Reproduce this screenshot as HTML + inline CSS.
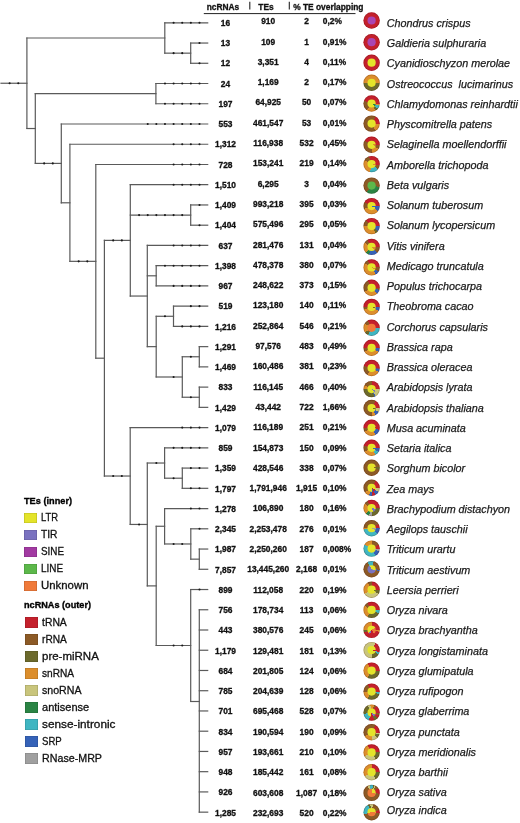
<!DOCTYPE html>
<html><head><meta charset="utf-8"><style>
html,body{margin:0;padding:0;background:#fff;}
body{width:520px;height:823px;position:relative;overflow:hidden;will-change:transform;filter:blur(0.3px);font-family:"Liberation Sans",sans-serif;color:#111;}
.a{position:absolute;white-space:nowrap;line-height:1;}
.n{font-weight:700;font-size:8.4px;-webkit-text-stroke:0.3px #111;}
.c{transform:translateX(-50%);}
.h{font-weight:700;font-size:8.4px;-webkit-text-stroke:0.3px #111;}
.sp{font-style:italic;font-size:10.78px;color:#1a1a1a;-webkit-text-stroke:0.25px #1a1a1a;}
.pie{position:absolute;left:0;top:0;width:16px;height:16px;border-radius:50%;box-shadow:inset 0 0 0 0.7px rgba(60,0,0,0.25);transform-origin:0 0;}
.pin{position:absolute;left:4px;top:4px;width:8px;height:8px;border-radius:50%;}
.sq{position:absolute;width:13.2px;height:10.8px;box-shadow:inset 0 0 0 0.6px rgba(0,0,0,0.18);}
.lg{font-size:10.8px;color:#111;transform-origin:0 0;-webkit-text-stroke:0.3px #111;}
.lt{font-weight:700;font-size:9.6px;color:#000;transform-origin:0 0;-webkit-text-stroke:0.35px #000;}
</style></head><body>

<svg width="520" height="823" style="position:absolute;left:0;top:0">
<g stroke="#5a5a5a" stroke-width="1.2" stroke-linecap="square" fill="none">
<line x1="1.00" y1="83.25" x2="26.90" y2="83.25"/>
<line x1="26.90" y1="37.98" x2="26.90" y2="128.52"/>
<line x1="26.90" y1="37.98" x2="164.80" y2="37.98"/>
<line x1="164.80" y1="22.80" x2="164.80" y2="53.16"/>
<line x1="164.80" y1="22.80" x2="207.70" y2="22.80"/>
<line x1="164.80" y1="53.16" x2="190.70" y2="53.16"/>
<line x1="190.70" y1="43.04" x2="190.70" y2="63.28"/>
<line x1="190.70" y1="43.04" x2="207.70" y2="43.04"/>
<line x1="190.70" y1="63.28" x2="207.70" y2="63.28"/>
<line x1="26.90" y1="128.52" x2="35.30" y2="128.52"/>
<line x1="35.30" y1="93.64" x2="35.30" y2="163.40"/>
<line x1="35.30" y1="93.64" x2="155.90" y2="93.64"/>
<line x1="155.90" y1="83.52" x2="155.90" y2="103.76"/>
<line x1="155.90" y1="83.52" x2="207.70" y2="83.52"/>
<line x1="155.90" y1="103.76" x2="207.70" y2="103.76"/>
<line x1="35.30" y1="163.40" x2="61.30" y2="163.40"/>
<line x1="61.30" y1="124.00" x2="61.30" y2="202.79"/>
<line x1="61.30" y1="124.00" x2="207.70" y2="124.00"/>
<line x1="61.30" y1="202.79" x2="69.90" y2="202.79"/>
<line x1="69.90" y1="144.24" x2="69.90" y2="261.34"/>
<line x1="69.90" y1="144.24" x2="207.70" y2="144.24"/>
<line x1="69.90" y1="261.34" x2="95.80" y2="261.34"/>
<line x1="95.80" y1="164.48" x2="95.80" y2="358.20"/>
<line x1="95.80" y1="164.48" x2="207.70" y2="164.48"/>
<line x1="95.80" y1="358.20" x2="104.40" y2="358.20"/>
<line x1="104.40" y1="240.38" x2="104.40" y2="476.03"/>
<line x1="104.40" y1="240.38" x2="130.30" y2="240.38"/>
<line x1="130.30" y1="184.72" x2="130.30" y2="296.04"/>
<line x1="130.30" y1="184.72" x2="207.70" y2="184.72"/>
<line x1="130.30" y1="215.08" x2="190.70" y2="215.08"/>
<line x1="190.70" y1="204.96" x2="190.70" y2="225.20"/>
<line x1="190.70" y1="204.96" x2="207.70" y2="204.96"/>
<line x1="190.70" y1="225.20" x2="207.70" y2="225.20"/>
<line x1="130.30" y1="296.04" x2="147.30" y2="296.04"/>
<line x1="147.30" y1="245.44" x2="147.30" y2="346.64"/>
<line x1="147.30" y1="245.44" x2="207.70" y2="245.44"/>
<line x1="147.30" y1="275.80" x2="156.20" y2="275.80"/>
<line x1="156.20" y1="265.68" x2="156.20" y2="285.92"/>
<line x1="156.20" y1="265.68" x2="207.70" y2="265.68"/>
<line x1="156.20" y1="285.92" x2="207.70" y2="285.92"/>
<line x1="147.30" y1="346.64" x2="156.20" y2="346.64"/>
<line x1="156.20" y1="316.28" x2="156.20" y2="377.00"/>
<line x1="156.20" y1="316.28" x2="173.50" y2="316.28"/>
<line x1="173.50" y1="306.16" x2="173.50" y2="326.40"/>
<line x1="173.50" y1="306.16" x2="207.70" y2="306.16"/>
<line x1="173.50" y1="326.40" x2="207.70" y2="326.40"/>
<line x1="156.20" y1="377.00" x2="182.30" y2="377.00"/>
<line x1="182.30" y1="356.76" x2="182.30" y2="397.24"/>
<line x1="182.30" y1="356.76" x2="199.30" y2="356.76"/>
<line x1="199.30" y1="346.64" x2="199.30" y2="366.88"/>
<line x1="199.30" y1="346.64" x2="207.70" y2="346.64"/>
<line x1="199.30" y1="366.88" x2="207.70" y2="366.88"/>
<line x1="182.30" y1="397.24" x2="199.30" y2="397.24"/>
<line x1="199.30" y1="387.12" x2="199.30" y2="407.36"/>
<line x1="199.30" y1="387.12" x2="207.70" y2="387.12"/>
<line x1="199.30" y1="407.36" x2="207.70" y2="407.36"/>
<line x1="104.40" y1="476.03" x2="130.20" y2="476.03"/>
<line x1="130.20" y1="427.60" x2="130.20" y2="524.45"/>
<line x1="130.20" y1="427.60" x2="207.70" y2="427.60"/>
<line x1="130.20" y1="524.45" x2="147.30" y2="524.45"/>
<line x1="147.30" y1="463.02" x2="147.30" y2="585.89"/>
<line x1="147.30" y1="463.02" x2="164.60" y2="463.02"/>
<line x1="164.60" y1="447.84" x2="164.60" y2="478.20"/>
<line x1="164.60" y1="447.84" x2="207.70" y2="447.84"/>
<line x1="164.60" y1="478.20" x2="182.30" y2="478.20"/>
<line x1="182.30" y1="468.08" x2="182.30" y2="488.32"/>
<line x1="182.30" y1="468.08" x2="207.70" y2="468.08"/>
<line x1="182.30" y1="488.32" x2="207.70" y2="488.32"/>
<line x1="147.30" y1="585.89" x2="156.20" y2="585.89"/>
<line x1="156.20" y1="526.27" x2="156.20" y2="645.51"/>
<line x1="156.20" y1="526.27" x2="164.60" y2="526.27"/>
<line x1="164.60" y1="508.56" x2="164.60" y2="543.98"/>
<line x1="164.60" y1="508.56" x2="207.70" y2="508.56"/>
<line x1="164.60" y1="543.98" x2="190.80" y2="543.98"/>
<line x1="190.80" y1="528.80" x2="190.80" y2="559.16"/>
<line x1="190.80" y1="528.80" x2="207.70" y2="528.80"/>
<line x1="190.80" y1="559.16" x2="199.30" y2="559.16"/>
<line x1="199.30" y1="549.04" x2="199.30" y2="569.28"/>
<line x1="199.30" y1="549.04" x2="207.70" y2="549.04"/>
<line x1="199.30" y1="569.28" x2="207.70" y2="569.28"/>
<line x1="156.20" y1="645.51" x2="190.70" y2="645.51"/>
<line x1="190.70" y1="589.52" x2="190.70" y2="701.50"/>
<line x1="190.70" y1="589.52" x2="207.70" y2="589.52"/>
<line x1="190.70" y1="701.50" x2="199.30" y2="701.50"/>
<line x1="199.30" y1="609.76" x2="199.30" y2="812.16"/>
<line x1="199.30" y1="609.76" x2="207.70" y2="609.76"/>
<line x1="199.30" y1="630.00" x2="207.70" y2="630.00"/>
<line x1="199.30" y1="650.24" x2="207.70" y2="650.24"/>
<line x1="199.30" y1="670.48" x2="207.70" y2="670.48"/>
<line x1="199.30" y1="690.72" x2="207.70" y2="690.72"/>
<line x1="199.30" y1="710.96" x2="207.70" y2="710.96"/>
<line x1="199.30" y1="731.20" x2="207.70" y2="731.20"/>
<line x1="199.30" y1="751.44" x2="207.70" y2="751.44"/>
<line x1="199.30" y1="771.68" x2="207.70" y2="771.68"/>
<line x1="199.30" y1="791.92" x2="207.70" y2="791.92"/>
<line x1="199.30" y1="812.16" x2="207.70" y2="812.16"/>
</g><g fill="#1a1a1a">
<circle cx="18.27" cy="83.25" r="1.05"/>
<circle cx="9.64" cy="83.25" r="1.05"/>
<circle cx="199.50" cy="22.80" r="1.05"/>
<circle cx="190.87" cy="22.80" r="1.05"/>
<circle cx="182.24" cy="22.80" r="1.05"/>
<circle cx="173.61" cy="22.80" r="1.05"/>
<circle cx="182.24" cy="53.16" r="1.05"/>
<circle cx="173.61" cy="53.16" r="1.05"/>
<circle cx="199.50" cy="43.04" r="1.05"/>
<circle cx="199.50" cy="63.28" r="1.05"/>
<circle cx="199.50" cy="83.52" r="1.05"/>
<circle cx="190.87" cy="83.52" r="1.05"/>
<circle cx="182.24" cy="83.52" r="1.05"/>
<circle cx="173.61" cy="83.52" r="1.05"/>
<circle cx="164.98" cy="83.52" r="1.05"/>
<circle cx="199.50" cy="103.76" r="1.05"/>
<circle cx="190.87" cy="103.76" r="1.05"/>
<circle cx="182.24" cy="103.76" r="1.05"/>
<circle cx="173.61" cy="103.76" r="1.05"/>
<circle cx="164.98" cy="103.76" r="1.05"/>
<circle cx="52.79" cy="163.40" r="1.05"/>
<circle cx="44.16" cy="163.40" r="1.05"/>
<circle cx="199.50" cy="124.00" r="1.05"/>
<circle cx="190.87" cy="124.00" r="1.05"/>
<circle cx="182.24" cy="124.00" r="1.05"/>
<circle cx="173.61" cy="124.00" r="1.05"/>
<circle cx="164.98" cy="124.00" r="1.05"/>
<circle cx="156.35" cy="124.00" r="1.05"/>
<circle cx="147.72" cy="124.00" r="1.05"/>
<circle cx="199.50" cy="144.24" r="1.05"/>
<circle cx="190.87" cy="144.24" r="1.05"/>
<circle cx="182.24" cy="144.24" r="1.05"/>
<circle cx="173.61" cy="144.24" r="1.05"/>
<circle cx="87.31" cy="261.34" r="1.05"/>
<circle cx="78.68" cy="261.34" r="1.05"/>
<circle cx="199.50" cy="164.48" r="1.05"/>
<circle cx="190.87" cy="164.48" r="1.05"/>
<circle cx="182.24" cy="164.48" r="1.05"/>
<circle cx="173.61" cy="164.48" r="1.05"/>
<circle cx="121.83" cy="240.38" r="1.05"/>
<circle cx="113.20" cy="240.38" r="1.05"/>
<circle cx="199.50" cy="184.72" r="1.05"/>
<circle cx="190.87" cy="184.72" r="1.05"/>
<circle cx="182.24" cy="184.72" r="1.05"/>
<circle cx="173.61" cy="184.72" r="1.05"/>
<circle cx="182.24" cy="215.08" r="1.05"/>
<circle cx="173.61" cy="215.08" r="1.05"/>
<circle cx="164.98" cy="215.08" r="1.05"/>
<circle cx="156.35" cy="215.08" r="1.05"/>
<circle cx="147.72" cy="215.08" r="1.05"/>
<circle cx="139.09" cy="215.08" r="1.05"/>
<circle cx="199.50" cy="204.96" r="1.05"/>
<circle cx="199.50" cy="225.20" r="1.05"/>
<circle cx="199.50" cy="245.44" r="1.05"/>
<circle cx="190.87" cy="245.44" r="1.05"/>
<circle cx="182.24" cy="245.44" r="1.05"/>
<circle cx="173.61" cy="245.44" r="1.05"/>
<circle cx="199.50" cy="265.68" r="1.05"/>
<circle cx="190.87" cy="265.68" r="1.05"/>
<circle cx="182.24" cy="265.68" r="1.05"/>
<circle cx="173.61" cy="265.68" r="1.05"/>
<circle cx="164.98" cy="265.68" r="1.05"/>
<circle cx="199.50" cy="285.92" r="1.05"/>
<circle cx="190.87" cy="285.92" r="1.05"/>
<circle cx="182.24" cy="285.92" r="1.05"/>
<circle cx="173.61" cy="285.92" r="1.05"/>
<circle cx="164.98" cy="316.28" r="1.05"/>
<circle cx="199.50" cy="306.16" r="1.05"/>
<circle cx="190.87" cy="306.16" r="1.05"/>
<circle cx="199.50" cy="326.40" r="1.05"/>
<circle cx="190.87" cy="326.40" r="1.05"/>
<circle cx="182.24" cy="326.40" r="1.05"/>
<circle cx="173.61" cy="377.00" r="1.05"/>
<circle cx="190.87" cy="356.76" r="1.05"/>
<circle cx="190.87" cy="397.24" r="1.05"/>
<circle cx="121.83" cy="476.03" r="1.05"/>
<circle cx="113.20" cy="476.03" r="1.05"/>
<circle cx="199.50" cy="427.60" r="1.05"/>
<circle cx="190.87" cy="427.60" r="1.05"/>
<circle cx="182.24" cy="427.60" r="1.05"/>
<circle cx="139.09" cy="524.45" r="1.05"/>
<circle cx="156.35" cy="463.02" r="1.05"/>
<circle cx="199.50" cy="447.84" r="1.05"/>
<circle cx="190.87" cy="447.84" r="1.05"/>
<circle cx="182.24" cy="447.84" r="1.05"/>
<circle cx="173.61" cy="447.84" r="1.05"/>
<circle cx="173.61" cy="478.20" r="1.05"/>
<circle cx="199.50" cy="468.08" r="1.05"/>
<circle cx="190.87" cy="468.08" r="1.05"/>
<circle cx="199.50" cy="488.32" r="1.05"/>
<circle cx="190.87" cy="488.32" r="1.05"/>
<circle cx="199.50" cy="508.56" r="1.05"/>
<circle cx="190.87" cy="508.56" r="1.05"/>
<circle cx="182.24" cy="543.98" r="1.05"/>
<circle cx="173.61" cy="543.98" r="1.05"/>
<circle cx="199.50" cy="528.80" r="1.05"/>
<circle cx="182.24" cy="645.51" r="1.05"/>
<circle cx="173.61" cy="645.51" r="1.05"/>
<circle cx="199.50" cy="589.52" r="1.05"/>
</g>
<line x1="203.8" y1="13.6" x2="355.5" y2="13.6" stroke="#222" stroke-width="1"/>
<line x1="249.8" y1="1.8" x2="249.8" y2="9.4" stroke="#222" stroke-width="1.1"/>
<line x1="289.3" y1="1.8" x2="289.3" y2="9.4" stroke="#222" stroke-width="1.1"/>
</svg>
<div class="a h" style="left:206.7px;top:3.0px">ncRNAs</div>
<div class="a h" style="left:258.3px;top:3.0px">TEs</div>
<div class="a h" style="left:293.2px;top:3.0px">% TE overlapping</div>
<div class="a n c" style="left:225.5px;top:18.90px">16</div>
<div class="a n c" style="left:268.2px;top:17.20px">910</div>
<div class="a n c" style="left:306.6px;top:17.20px">2</div>
<div class="a n" style="left:322.8px;top:17.20px">0,2%</div>
<div class="pie" style="transform:translate(363.40px,12.30px) scale(1.025);background:conic-gradient(#c4202c 0deg 360deg)"><div class="pin" style="background:conic-gradient(#aa46b2 0deg 360deg)"></div></div>
<div class="a sp" style="left:386.8px;top:17.82px">Chondrus crispus</div>
<div class="a n c" style="left:225.5px;top:39.15px">13</div>
<div class="a n c" style="left:268.2px;top:37.50px">109</div>
<div class="a n c" style="left:306.6px;top:37.50px">1</div>
<div class="a n" style="left:322.8px;top:37.50px">0,91%</div>
<div class="pie" style="transform:translate(363.40px,34.00px) scale(1.025);background:conic-gradient(#c4202c 0deg 360deg)"><div class="pin" style="background:conic-gradient(#aa46b2 0deg 360deg)"></div></div>
<div class="a sp" style="left:386.8px;top:38.07px">Galdieria sulphuraria</div>
<div class="a n c" style="left:225.5px;top:59.40px">12</div>
<div class="a n c" style="left:268.2px;top:57.80px">3,351</div>
<div class="a n c" style="left:306.6px;top:57.80px">4</div>
<div class="a n" style="left:322.8px;top:57.80px">0,11%</div>
<div class="pie" style="transform:translate(363.40px,54.50px) scale(1.025);background:conic-gradient(#c4202c 0deg 360deg)"><div class="pin" style="background:conic-gradient(#e4e42a 0deg 360deg)"></div></div>
<div class="a sp" style="left:386.8px;top:58.32px">Cyanidioschyzon merolae</div>
<div class="a n c" style="left:225.5px;top:79.65px">24</div>
<div class="a n c" style="left:268.2px;top:78.10px">1,169</div>
<div class="a n c" style="left:306.6px;top:78.10px">2</div>
<div class="a n" style="left:322.8px;top:78.10px">0,17%</div>
<div class="pie" style="transform:translate(363.40px,74.60px) scale(1.025);background:conic-gradient(#dc8e2c 0deg 90deg,#6c6a2c 90deg 270deg,#dc8e2c 270deg 360deg)"><div class="pin" style="background:conic-gradient(#e4e42a 0deg 360deg)"></div></div>
<div class="a sp" style="left:386.8px;top:78.57px">Ostreococcus&nbsp; lucimarinus</div>
<div class="a n c" style="left:225.5px;top:99.90px">197</div>
<div class="a n c" style="left:268.2px;top:98.40px">64,925</div>
<div class="a n c" style="left:306.6px;top:98.40px">50</div>
<div class="a n" style="left:322.8px;top:98.40px">0,07%</div>
<div class="pie" style="transform:translate(363.40px,95.30px) scale(1.025);background:conic-gradient(#c4202c 0deg 90deg,#dc8e2c 90deg 105deg,#3fb6c2 105deg 130deg,#6c6a2c 130deg 150deg,#dc8e2c 150deg 215deg,#8c5a26 215deg 290deg,#c4202c 290deg 360deg)"><div class="pin" style="background:conic-gradient(#e4e42a 0deg 100deg,#2a8444 100deg 125deg,#e4e42a 125deg 360deg)"></div></div>
<div class="a sp" style="left:386.8px;top:98.82px">Chlamydomonas reinhardtii</div>
<div class="a n c" style="left:225.5px;top:120.15px">553</div>
<div class="a n c" style="left:268.2px;top:118.70px">461,547</div>
<div class="a n c" style="left:306.6px;top:118.70px">53</div>
<div class="a n" style="left:322.8px;top:118.70px">0,01%</div>
<div class="pie" style="transform:translate(363.40px,115.40px) scale(1.025);background:conic-gradient(#8c5a26 0deg 30deg,#c4202c 30deg 95deg,#dc8e2c 95deg 150deg,#8c5a26 150deg 360deg)"><div class="pin" style="background:conic-gradient(#e4e42a 0deg 360deg)"></div></div>
<div class="a sp" style="left:386.8px;top:119.07px">Physcomitrella patens</div>
<div class="a n c" style="left:225.5px;top:140.40px">1,312</div>
<div class="a n c" style="left:268.2px;top:139.00px">116,938</div>
<div class="a n c" style="left:306.6px;top:139.00px">532</div>
<div class="a n" style="left:322.8px;top:139.00px">0,45%</div>
<div class="pie" style="transform:translate(363.40px,136.60px) scale(1.025);background:conic-gradient(#c4202c 0deg 90deg,#8c5a26 90deg 120deg,#dc8e2c 120deg 180deg,#8c5a26 180deg 300deg,#c4202c 300deg 360deg)"><div class="pin" style="background:conic-gradient(#e4e42a 0deg 80deg,#dc8e2c 80deg 105deg,#e4e42a 105deg 360deg)"></div></div>
<div class="a sp" style="left:386.8px;top:139.32px">Selaginella moellendorffii</div>
<div class="a n c" style="left:225.5px;top:160.65px">728</div>
<div class="a n c" style="left:268.2px;top:159.30px">153,241</div>
<div class="a n c" style="left:306.6px;top:159.30px">219</div>
<div class="a n" style="left:322.8px;top:159.30px">0,14%</div>
<div class="pie" style="transform:translate(363.40px,155.90px) scale(1.025);background:conic-gradient(#c4202c 0deg 100deg,#8c5a26 100deg 130deg,#3fb6c2 130deg 190deg,#dc8e2c 190deg 300deg,#8c5a26 300deg 340deg,#c4202c 340deg 360deg)"><div class="pin" style="background:conic-gradient(#e4e42a 0deg 80deg,#dc8e2c 80deg 108deg,#e4e42a 108deg 360deg)"></div></div>
<div class="a sp" style="left:386.8px;top:159.57px">Amborella trichopoda</div>
<div class="a n c" style="left:225.5px;top:180.90px">1,510</div>
<div class="a n c" style="left:268.2px;top:179.60px">6,295</div>
<div class="a n c" style="left:306.6px;top:179.60px">3</div>
<div class="a n" style="left:322.8px;top:179.60px">0,04%</div>
<div class="pie" style="transform:translate(363.40px,177.40px) scale(1.025);background:conic-gradient(#8c5a26 0deg 100deg,#2a8444 100deg 215deg,#8c5a26 215deg 360deg)"><div class="pin" style="background:conic-gradient(#5cb84a 0deg 360deg)"></div></div>
<div class="a sp" style="left:386.8px;top:179.82px">Beta vulgaris</div>
<div class="a n c" style="left:225.5px;top:201.15px">1,409</div>
<div class="a n c" style="left:268.2px;top:199.90px">993,218</div>
<div class="a n c" style="left:306.6px;top:199.90px">395</div>
<div class="a n" style="left:322.8px;top:199.90px">0,03%</div>
<div class="pie" style="transform:translate(363.40px,197.90px) scale(1.025);background:conic-gradient(#c4202c 0deg 90deg,#3562b8 90deg 130deg,#dc8e2c 130deg 250deg,#8c5a26 250deg 300deg,#c4202c 300deg 360deg)"><div class="pin" style="background:conic-gradient(#e4e42a 0deg 95deg,#3562b8 95deg 115deg,#e4e42a 115deg 360deg)"></div></div>
<div class="a sp" style="left:386.8px;top:200.07px">Solanum tuberosum</div>
<div class="a n c" style="left:225.5px;top:221.40px">1,404</div>
<div class="a n c" style="left:268.2px;top:220.20px">575,496</div>
<div class="a n c" style="left:306.6px;top:220.20px">295</div>
<div class="a n" style="left:322.8px;top:220.20px">0,05%</div>
<div class="pie" style="transform:translate(363.40px,217.90px) scale(1.025);background:conic-gradient(#c4202c 0deg 90deg,#3562b8 90deg 130deg,#6c6a2c 130deg 150deg,#dc8e2c 150deg 270deg,#8c5a26 270deg 315deg,#c4202c 315deg 360deg)"><div class="pin" style="background:conic-gradient(#e4e42a 0deg 360deg)"></div></div>
<div class="a sp" style="left:386.8px;top:220.31px">Solanum lycopersicum</div>
<div class="a n c" style="left:225.5px;top:241.65px">637</div>
<div class="a n c" style="left:268.2px;top:240.50px">281,476</div>
<div class="a n c" style="left:306.6px;top:240.50px">131</div>
<div class="a n" style="left:322.8px;top:240.50px">0,04%</div>
<div class="pie" style="transform:translate(363.40px,238.70px) scale(1.025);background:conic-gradient(#c4202c 0deg 90deg,#8c5a26 90deg 135deg,#3562b8 135deg 200deg,#2a8444 200deg 225deg,#dc8e2c 225deg 300deg,#8c5a26 300deg 330deg,#c4202c 330deg 360deg)"><div class="pin" style="background:conic-gradient(#e4e42a 0deg 95deg,#dc8e2c 95deg 140deg,#e4e42a 140deg 360deg)"></div></div>
<div class="a sp" style="left:386.8px;top:240.56px">Vitis vinifera</div>
<div class="a n c" style="left:225.5px;top:261.90px">1,398</div>
<div class="a n c" style="left:268.2px;top:260.80px">478,378</div>
<div class="a n c" style="left:306.6px;top:260.80px">380</div>
<div class="a n" style="left:322.8px;top:260.80px">0,07%</div>
<div class="pie" style="transform:translate(363.40px,259.20px) scale(1.025);background:conic-gradient(#c4202c 0deg 90deg,#8c5a26 90deg 120deg,#3562b8 120deg 150deg,#dc8e2c 150deg 300deg,#8c5a26 300deg 330deg,#c4202c 330deg 360deg)"><div class="pin" style="background:conic-gradient(#e4e42a 0deg 95deg,#dc8e2c 95deg 125deg,#e4e42a 125deg 360deg)"></div></div>
<div class="a sp" style="left:386.8px;top:260.81px">Medicago truncatula</div>
<div class="a n c" style="left:225.5px;top:282.15px">967</div>
<div class="a n c" style="left:268.2px;top:281.10px">248,622</div>
<div class="a n c" style="left:306.6px;top:281.10px">373</div>
<div class="a n" style="left:322.8px;top:281.10px">0,15%</div>
<div class="pie" style="transform:translate(363.40px,279.60px) scale(1.025);background:conic-gradient(#c4202c 0deg 90deg,#8c5a26 90deg 105deg,#3562b8 105deg 135deg,#dc8e2c 135deg 240deg,#8c5a26 240deg 330deg,#c4202c 330deg 360deg)"><div class="pin" style="background:conic-gradient(#e4e42a 0deg 360deg)"></div></div>
<div class="a sp" style="left:386.8px;top:281.06px">Populus trichocarpa</div>
<div class="a n c" style="left:225.5px;top:302.40px">519</div>
<div class="a n c" style="left:268.2px;top:301.40px">123,180</div>
<div class="a n c" style="left:306.6px;top:301.40px">140</div>
<div class="a n" style="left:322.8px;top:301.40px">0,11%</div>
<div class="pie" style="transform:translate(363.40px,298.70px) scale(1.025);background:conic-gradient(#c4202c 0deg 90deg,#3562b8 95deg 120deg,#dc8e2c 120deg 250deg,#8c5a26 250deg 270deg,#c4202c 270deg 360deg)"><div class="pin" style="background:conic-gradient(#e4e42a 0deg 100deg,#8c5a26 100deg 110deg,#e4e42a 110deg 360deg)"></div></div>
<div class="a sp" style="left:386.8px;top:301.31px">Theobroma cacao</div>
<div class="a n c" style="left:225.5px;top:322.65px">1,216</div>
<div class="a n c" style="left:268.2px;top:321.70px">252,864</div>
<div class="a n c" style="left:306.6px;top:321.70px">546</div>
<div class="a n" style="left:322.8px;top:321.70px">0,21%</div>
<div class="pie" style="transform:translate(363.40px,319.60px) scale(1.025);background:conic-gradient(#c4202c 0deg 90deg,#3fb6c2 90deg 205deg,#6c6a2c 205deg 235deg,#dc8e2c 235deg 300deg,#8c5a26 300deg 330deg,#c4202c 330deg 360deg)"><div class="pin" style="background:conic-gradient(#f07a3a 0deg 360deg)"></div></div>
<div class="a sp" style="left:386.8px;top:321.56px">Corchorus capsularis</div>
<div class="a n c" style="left:225.5px;top:342.90px">1,291</div>
<div class="a n c" style="left:268.2px;top:342.00px">97,576</div>
<div class="a n c" style="left:306.6px;top:342.00px">483</div>
<div class="a n" style="left:322.8px;top:342.00px">0,49%</div>
<div class="pie" style="transform:translate(363.40px,339.60px) scale(1.025);background:conic-gradient(#c4202c 0deg 90deg,#3562b8 90deg 120deg,#dc8e2c 120deg 240deg,#8c5a26 240deg 270deg,#c4202c 270deg 360deg)"><div class="pin" style="background:conic-gradient(#e4e42a 0deg 360deg)"></div></div>
<div class="a sp" style="left:386.8px;top:341.81px">Brassica rapa</div>
<div class="a n c" style="left:225.5px;top:363.15px">1,469</div>
<div class="a n c" style="left:268.2px;top:362.30px">160,486</div>
<div class="a n c" style="left:306.6px;top:362.30px">381</div>
<div class="a n" style="left:322.8px;top:362.30px">0,23%</div>
<div class="pie" style="transform:translate(363.40px,359.80px) scale(1.025);background:conic-gradient(#c4202c 0deg 90deg,#3562b8 100deg 120deg,#dc8e2c 120deg 210deg,#8c5a26 210deg 285deg,#c4202c 285deg 360deg)"><div class="pin" style="background:conic-gradient(#e4e42a 0deg 360deg)"></div></div>
<div class="a sp" style="left:386.8px;top:362.06px">Brassica oleracea</div>
<div class="a n c" style="left:225.5px;top:383.40px">833</div>
<div class="a n c" style="left:268.2px;top:382.60px">116,145</div>
<div class="a n c" style="left:306.6px;top:382.60px">466</div>
<div class="a n" style="left:322.8px;top:382.60px">0,40%</div>
<div class="pie" style="transform:translate(363.40px,380.90px) scale(1.025);background:conic-gradient(#c4202c 0deg 90deg,#c9c57c 90deg 150deg,#3562b8 150deg 160deg,#6c6a2c 160deg 270deg,#dc8e2c 270deg 300deg,#8c5a26 300deg 360deg)"><div class="pin" style="background:conic-gradient(#e4e42a 0deg 110deg,#7a72c0 110deg 140deg,#e4e42a 140deg 360deg)"></div></div>
<div class="a sp" style="left:386.8px;top:382.31px">Arabidopsis lyrata</div>
<div class="a n c" style="left:225.5px;top:403.65px">1,429</div>
<div class="a n c" style="left:268.2px;top:402.90px">43,442</div>
<div class="a n c" style="left:306.6px;top:402.90px">722</div>
<div class="a n" style="left:322.8px;top:402.90px">1,66%</div>
<div class="pie" style="transform:translate(363.40px,399.80px) scale(1.025);background:conic-gradient(#8c5a26 0deg 30deg,#c4202c 30deg 90deg,#c9c57c 90deg 120deg,#3562b8 120deg 150deg,#dc8e2c 150deg 180deg,#8c5a26 180deg 360deg)"><div class="pin" style="background:conic-gradient(#e4e42a 0deg 90deg,#6c6a2c 90deg 115deg,#e4e42a 115deg 360deg)"></div></div>
<div class="a sp" style="left:386.8px;top:402.56px">Arabidopsis thaliana</div>
<div class="a n c" style="left:225.5px;top:423.90px">1,079</div>
<div class="a n c" style="left:268.2px;top:423.20px">116,189</div>
<div class="a n c" style="left:306.6px;top:423.20px">251</div>
<div class="a n" style="left:322.8px;top:423.20px">0,21%</div>
<div class="pie" style="transform:translate(363.40px,419.60px) scale(1.025);background:conic-gradient(#c4202c 0deg 105deg,#3562b8 105deg 150deg,#dc8e2c 150deg 240deg,#8c5a26 240deg 270deg,#c4202c 270deg 360deg)"><div class="pin" style="background:conic-gradient(#e4e42a 0deg 85deg,#8c5a26 85deg 100deg,#e4e42a 100deg 360deg)"></div></div>
<div class="a sp" style="left:386.8px;top:422.80px">Musa acuminata</div>
<div class="a n c" style="left:225.5px;top:444.15px">859</div>
<div class="a n c" style="left:268.2px;top:443.50px">154,873</div>
<div class="a n c" style="left:306.6px;top:443.50px">150</div>
<div class="a n" style="left:322.8px;top:443.50px">0,09%</div>
<div class="pie" style="transform:translate(363.40px,439.60px) scale(1.025);background:conic-gradient(#c4202c 0deg 90deg,#3562b8 90deg 120deg,#3fb6c2 120deg 150deg,#dc8e2c 150deg 240deg,#8c5a26 240deg 285deg,#c4202c 285deg 360deg)"><div class="pin" style="background:conic-gradient(#e4e42a 0deg 90deg,#3562b8 90deg 115deg,#e4e42a 115deg 360deg)"></div></div>
<div class="a sp" style="left:386.8px;top:443.05px">Setaria italica</div>
<div class="a n c" style="left:225.5px;top:464.40px">1,359</div>
<div class="a n c" style="left:268.2px;top:463.80px">428,546</div>
<div class="a n c" style="left:306.6px;top:463.80px">338</div>
<div class="a n" style="left:322.8px;top:463.80px">0,07%</div>
<div class="pie" style="transform:translate(363.40px,459.50px) scale(1.025);background:conic-gradient(#8c5a26 0deg 85deg,#6c6a2c 85deg 105deg,#8c5a26 105deg 360deg)"><div class="pin" style="background:conic-gradient(#e4e42a 0deg 85deg,#8c5a26 85deg 100deg,#e4e42a 100deg 360deg)"></div></div>
<div class="a sp" style="left:386.8px;top:463.30px">Sorghum bicolor</div>
<div class="a n c" style="left:225.5px;top:484.65px">1,797</div>
<div class="a n c" style="left:268.2px;top:484.10px">1,791,946</div>
<div class="a n c" style="left:306.6px;top:484.10px">1,915</div>
<div class="a n" style="left:322.8px;top:484.10px">0,10%</div>
<div class="pie" style="transform:translate(363.40px,479.60px) scale(1.025);background:conic-gradient(#8c5a26 0deg 30deg,#c4202c 30deg 90deg,#c9c57c 90deg 120deg,#3562b8 120deg 150deg,#c4202c 150deg 175deg,#3562b8 175deg 200deg,#dc8e2c 200deg 235deg,#8c5a26 235deg 270deg,#8c5a26 270deg 360deg)"><div class="pin" style="background:conic-gradient(#e4e42a 0deg 120deg,#c4202c 120deg 150deg,#3562b8 150deg 175deg,#e4e42a 175deg 360deg)"></div></div>
<div class="a sp" style="left:386.8px;top:483.55px">Zea mays</div>
<div class="a n c" style="left:225.5px;top:504.90px">1,278</div>
<div class="a n c" style="left:268.2px;top:504.40px">106,890</div>
<div class="a n c" style="left:306.6px;top:504.40px">180</div>
<div class="a n" style="left:322.8px;top:504.40px">0,16%</div>
<div class="pie" style="transform:translate(363.40px,499.80px) scale(1.025);background:conic-gradient(#c4202c 0deg 90deg,#6c6a2c 90deg 180deg,#a0a0a0 180deg 200deg,#2a8444 200deg 225deg,#dc8e2c 225deg 300deg,#8c5a26 300deg 330deg,#c4202c 330deg 360deg)"><div class="pin" style="background:conic-gradient(#e4e42a 0deg 100deg,#7a72c0 100deg 160deg,#e4e42a 160deg 360deg)"></div></div>
<div class="a sp" style="left:386.8px;top:503.80px">Brachypodium distachyon</div>
<div class="a n c" style="left:225.5px;top:525.15px">2,345</div>
<div class="a n c" style="left:268.2px;top:524.70px">2,253,478</div>
<div class="a n c" style="left:306.6px;top:524.70px">276</div>
<div class="a n" style="left:322.8px;top:524.70px">0,01%</div>
<div class="pie" style="transform:translate(363.40px,520.00px) scale(1.025);background:conic-gradient(#8c5a26 0deg 60deg,#c4202c 60deg 90deg,#3562b8 90deg 135deg,#3fb6c2 135deg 260deg,#dc8e2c 260deg 270deg,#8c5a26 270deg 360deg)"><div class="pin" style="background:conic-gradient(#e4e42a 0deg 95deg,#a0a0a0 95deg 115deg,#e4e42a 115deg 360deg)"></div></div>
<div class="a sp" style="left:386.8px;top:524.05px">Aegilops tauschii</div>
<div class="a n c" style="left:225.5px;top:545.40px">1,987</div>
<div class="a n c" style="left:268.2px;top:545.00px">2,250,260</div>
<div class="a n c" style="left:306.6px;top:545.00px">187</div>
<div class="a n" style="left:322.8px;top:545.00px">0,008%</div>
<div class="pie" style="transform:translate(363.40px,540.40px) scale(1.025);background:conic-gradient(#8c5a26 0deg 60deg,#c4202c 60deg 95deg,#a0a0a0 95deg 110deg,#3562b8 110deg 150deg,#3fb6c2 150deg 300deg,#dc8e2c 300deg 360deg)"><div class="pin" style="background:conic-gradient(#e4e42a 0deg 90deg,#c9c57c 90deg 110deg,#e4e42a 110deg 360deg)"></div></div>
<div class="a sp" style="left:386.8px;top:544.30px">Triticum urartu</div>
<div class="a n c" style="left:225.5px;top:565.65px">7,857</div>
<div class="a n c" style="left:268.2px;top:565.30px">13,445,260</div>
<div class="a n c" style="left:306.6px;top:565.30px">2,168</div>
<div class="a n" style="left:322.8px;top:565.30px">0,01%</div>
<div class="pie" style="transform:translate(363.40px,561.10px) scale(1.025);background:conic-gradient(#3fb6c2 0deg 15deg,#8c5a26 15deg 92deg,#3562b8 92deg 102deg,#8c5a26 102deg 330deg,#3fb6c2 330deg 360deg)"><div class="pin" style="background:conic-gradient(#e4e42a 0deg 100deg,#a0a0a0 100deg 110deg,#7a72c0 110deg 330deg,#e4e42a 330deg 360deg)"></div></div>
<div class="a sp" style="left:386.8px;top:564.55px">Triticum aestivum</div>
<div class="a n c" style="left:225.5px;top:585.90px">899</div>
<div class="a n c" style="left:268.2px;top:585.60px">112,058</div>
<div class="a n c" style="left:306.6px;top:585.60px">220</div>
<div class="a n" style="left:322.8px;top:585.60px">0,19%</div>
<div class="pie" style="transform:translate(363.40px,581.50px) scale(1.025);background:conic-gradient(#c4202c 0deg 90deg,#6c6a2c 90deg 120deg,#c9c57c 120deg 240deg,#dc8e2c 240deg 330deg,#8c5a26 330deg 360deg)"><div class="pin" style="background:conic-gradient(#e4e42a 0deg 90deg,#6c6a2c 90deg 110deg,#e4e42a 110deg 360deg)"></div></div>
<div class="a sp" style="left:386.8px;top:584.80px">Leersia perrieri</div>
<div class="a n c" style="left:225.5px;top:606.15px">756</div>
<div class="a n c" style="left:268.2px;top:605.90px">178,734</div>
<div class="a n c" style="left:306.6px;top:605.90px">113</div>
<div class="a n" style="left:322.8px;top:605.90px">0,06%</div>
<div class="pie" style="transform:translate(363.40px,601.70px) scale(1.025);background:conic-gradient(#c4202c 0deg 90deg,#3fb6c2 90deg 115deg,#6c6a2c 115deg 210deg,#dc8e2c 210deg 300deg,#8c5a26 300deg 330deg,#c4202c 330deg 360deg)"><div class="pin" style="background:conic-gradient(#e4e42a 0deg 360deg)"></div></div>
<div class="a sp" style="left:386.8px;top:605.05px">Oryza nivara</div>
<div class="a n c" style="left:225.5px;top:626.40px">443</div>
<div class="a n c" style="left:268.2px;top:626.20px">380,576</div>
<div class="a n c" style="left:306.6px;top:626.20px">245</div>
<div class="a n" style="left:322.8px;top:626.20px">0,06%</div>
<div class="pie" style="transform:translate(363.40px,621.70px) scale(1.025);background:conic-gradient(#c4202c 0deg 90deg,#dc8e2c 90deg 105deg,#c4202c 105deg 250deg,#6c6a2c 250deg 270deg,#dc8e2c 270deg 360deg)"><div class="pin" style="background:conic-gradient(#e4e42a 0deg 60deg,#f07a3a 60deg 150deg,#c4202c 150deg 200deg,#7a72c0 200deg 230deg,#e4e42a 230deg 300deg,#e4e42a 300deg 360deg)"></div></div>
<div class="a sp" style="left:386.8px;top:625.29px">Oryza brachyantha</div>
<div class="a n c" style="left:225.5px;top:646.65px">1,179</div>
<div class="a n c" style="left:268.2px;top:646.50px">129,481</div>
<div class="a n c" style="left:306.6px;top:646.50px">181</div>
<div class="a n" style="left:322.8px;top:646.50px">0,13%</div>
<div class="pie" style="transform:translate(363.40px,641.90px) scale(1.025);background:conic-gradient(#c9c57c 0deg 30deg,#c4202c 30deg 105deg,#3fb6c2 105deg 120deg,#6c6a2c 120deg 180deg,#c9c57c 180deg 360deg)"><div class="pin" style="background:conic-gradient(#e4e42a 0deg 90deg,#c4202c 90deg 105deg,#e4e42a 105deg 360deg)"></div></div>
<div class="a sp" style="left:386.8px;top:645.54px">Oryza longistaminata</div>
<div class="a n c" style="left:225.5px;top:666.90px">684</div>
<div class="a n c" style="left:268.2px;top:666.80px">201,805</div>
<div class="a n c" style="left:306.6px;top:666.80px">124</div>
<div class="a n" style="left:322.8px;top:666.80px">0,06%</div>
<div class="pie" style="transform:translate(363.40px,662.40px) scale(1.025);background:conic-gradient(#c4202c 0deg 90deg,#6c6a2c 90deg 210deg,#dc8e2c 210deg 330deg,#c4202c 330deg 360deg)"><div class="pin" style="background:conic-gradient(#e4e42a 0deg 360deg)"></div></div>
<div class="a sp" style="left:386.8px;top:665.79px">Oryza glumipatula</div>
<div class="a n c" style="left:225.5px;top:687.15px">785</div>
<div class="a n c" style="left:268.2px;top:687.10px">204,639</div>
<div class="a n c" style="left:306.6px;top:687.10px">128</div>
<div class="a n" style="left:322.8px;top:687.10px">0,06%</div>
<div class="pie" style="transform:translate(363.40px,683.40px) scale(1.025);background:conic-gradient(#c4202c 0deg 90deg,#3fb6c2 90deg 110deg,#6c6a2c 110deg 210deg,#dc8e2c 210deg 270deg,#8c5a26 270deg 330deg,#c4202c 330deg 360deg)"><div class="pin" style="background:conic-gradient(#e4e42a 0deg 360deg)"></div></div>
<div class="a sp" style="left:386.8px;top:686.04px">Oryza rufipogon</div>
<div class="a n c" style="left:225.5px;top:707.40px">701</div>
<div class="a n c" style="left:268.2px;top:707.40px">695,468</div>
<div class="a n c" style="left:306.6px;top:707.40px">528</div>
<div class="a n" style="left:322.8px;top:707.40px">0,07%</div>
<div class="pie" style="transform:translate(363.40px,704.40px) scale(1.025);background:conic-gradient(#dc8e2c 0deg 20deg,#8c5a26 20deg 35deg,#c4202c 35deg 90deg,#8c5a26 90deg 110deg,#c4202c 110deg 130deg,#6c6a2c 130deg 160deg,#c4202c 160deg 200deg,#3fb6c2 200deg 260deg,#6c6a2c 260deg 280deg,#6c6a2c 280deg 330deg,#c9c57c 330deg 350deg,#dc8e2c 350deg 360deg)"><div class="pin" style="background:conic-gradient(#e4e42a 0deg 120deg,#7a72c0 120deg 160deg,#c4202c 160deg 190deg,#e4e42a 190deg 360deg)"></div></div>
<div class="a sp" style="left:386.8px;top:706.29px">Oryza glaberrima</div>
<div class="a n c" style="left:225.5px;top:727.65px">834</div>
<div class="a n c" style="left:268.2px;top:727.70px">190,594</div>
<div class="a n c" style="left:306.6px;top:727.70px">190</div>
<div class="a n" style="left:322.8px;top:727.70px">0,09%</div>
<div class="pie" style="transform:translate(363.40px,724.00px) scale(1.025);background:conic-gradient(#8c5a26 0deg 30deg,#c4202c 30deg 95deg,#c9c57c 95deg 105deg,#6c6a2c 105deg 135deg,#c9c57c 135deg 180deg,#dc8e2c 180deg 240deg,#8c5a26 240deg 360deg)"><div class="pin" style="background:conic-gradient(#e4e42a 0deg 360deg)"></div></div>
<div class="a sp" style="left:386.8px;top:726.54px">Oryza punctata</div>
<div class="a n c" style="left:225.5px;top:747.90px">957</div>
<div class="a n c" style="left:268.2px;top:748.00px">193,661</div>
<div class="a n c" style="left:306.6px;top:748.00px">210</div>
<div class="a n" style="left:322.8px;top:748.00px">0,10%</div>
<div class="pie" style="transform:translate(363.40px,744.20px) scale(1.025);background:conic-gradient(#c4202c 0deg 90deg,#6c6a2c 90deg 150deg,#c9c57c 150deg 240deg,#dc8e2c 240deg 330deg,#c4202c 330deg 360deg)"><div class="pin" style="background:conic-gradient(#e4e42a 0deg 360deg)"></div></div>
<div class="a sp" style="left:386.8px;top:746.79px">Oryza meridionalis</div>
<div class="a n c" style="left:225.5px;top:768.15px">948</div>
<div class="a n c" style="left:268.2px;top:768.30px">185,442</div>
<div class="a n c" style="left:306.6px;top:768.30px">161</div>
<div class="a n" style="left:322.8px;top:768.30px">0,08%</div>
<div class="pie" style="transform:translate(363.40px,764.00px) scale(1.025);background:conic-gradient(#c4202c 0deg 90deg,#6c6a2c 90deg 150deg,#c9c57c 150deg 240deg,#dc8e2c 240deg 360deg)"><div class="pin" style="background:conic-gradient(#e4e42a 0deg 360deg)"></div></div>
<div class="a sp" style="left:386.8px;top:767.04px">Oryza barthii</div>
<div class="a n c" style="left:225.5px;top:788.40px">926</div>
<div class="a n c" style="left:268.2px;top:788.60px">603,608</div>
<div class="a n c" style="left:306.6px;top:788.60px">1,087</div>
<div class="a n" style="left:322.8px;top:788.60px">0,18%</div>
<div class="pie" style="transform:translate(363.40px,784.70px) scale(1.025);background:conic-gradient(#3fb6c2 0deg 10deg,#6c6a2c 10deg 20deg,#c9c57c 20deg 30deg,#8c5a26 30deg 55deg,#c4202c 55deg 95deg,#8c5a26 95deg 330deg,#c9c57c 330deg 345deg,#3fb6c2 345deg 360deg)"><div class="pin" style="background:conic-gradient(#e4e42a 0deg 100deg,#f07a3a 100deg 360deg)"></div></div>
<div class="a sp" style="left:386.8px;top:787.29px">Oryza sativa</div>
<div class="a n c" style="left:225.5px;top:808.65px">1,285</div>
<div class="a n c" style="left:268.2px;top:808.90px">232,693</div>
<div class="a n c" style="left:306.6px;top:808.90px">520</div>
<div class="a n" style="left:322.8px;top:808.90px">0,22%</div>
<div class="pie" style="transform:translate(363.40px,804.00px) scale(1.025);background:conic-gradient(#c9c57c 0deg 10deg,#8c5a26 10deg 75deg,#c4202c 75deg 100deg,#8c5a26 100deg 255deg,#3fb6c2 255deg 335deg,#6c6a2c 335deg 350deg,#c9c57c 350deg 360deg)"><div class="pin" style="background:conic-gradient(#e4e42a 0deg 95deg,#f07a3a 95deg 260deg,#e4e42a 260deg 360deg)"></div></div>
<div class="a sp" style="left:386.8px;top:805.27px">Oryza indica</div>
<div class="a lt" style="left:24.2px;top:496.07px;transform:scaleX(0.959)">TEs (inner)</div>
<div class="sq" style="left:23.9px;top:512.50px;background:#e4e42a"></div>
<div class="a lg" style="left:40.8px;top:512.21px;transform:scaleX(0.872)">LTR</div>
<div class="sq" style="left:23.9px;top:529.50px;background:#7a72c0"></div>
<div class="a lg" style="left:40.8px;top:529.21px;transform:scaleX(0.948)">TIR</div>
<div class="sq" style="left:23.9px;top:546.50px;background:#a23aa2"></div>
<div class="a lg" style="left:40.8px;top:546.21px;transform:scaleX(0.912)">SINE</div>
<div class="sq" style="left:23.9px;top:563.50px;background:#5cb84a"></div>
<div class="a lg" style="left:40.8px;top:563.21px;transform:scaleX(0.920)">LINE</div>
<div class="sq" style="left:23.9px;top:580.50px;background:#f07a3a"></div>
<div class="a lg" style="left:40.8px;top:580.21px;transform:scaleX(1.055)">Unknown</div>
<div class="a lt" style="left:24.3px;top:600.17px;transform:scaleX(0.952)">ncRNAs (outer)</div>
<div class="sq" style="left:25.1px;top:617.00px;background:#c4202c"></div>
<div class="a lg" style="left:41.8px;top:616.71px;transform:scaleX(0.961)">tRNA</div>
<div class="sq" style="left:25.1px;top:634.00px;background:#8c5a26"></div>
<div class="a lg" style="left:41.8px;top:633.71px;transform:scaleX(0.939)">rRNA</div>
<div class="sq" style="left:25.1px;top:651.00px;background:#6c6a2c"></div>
<div class="a lg" style="left:41.8px;top:650.71px;transform:scaleX(1.064)">pre-miRNA</div>
<div class="sq" style="left:25.1px;top:668.00px;background:#dc8e2c"></div>
<div class="a lg" style="left:41.8px;top:667.71px;transform:scaleX(0.938)">snRNA</div>
<div class="sq" style="left:25.1px;top:685.00px;background:#c9c57c"></div>
<div class="a lg" style="left:41.8px;top:684.71px;transform:scaleX(0.982)">snoRNA</div>
<div class="sq" style="left:25.1px;top:702.00px;background:#2a8444"></div>
<div class="a lg" style="left:41.8px;top:701.71px;transform:scaleX(1.022)">antisense</div>
<div class="sq" style="left:25.1px;top:719.00px;background:#3fb6c2"></div>
<div class="a lg" style="left:41.8px;top:718.71px;transform:scaleX(1.093)">sense-intronic</div>
<div class="sq" style="left:25.1px;top:736.00px;background:#3562b8"></div>
<div class="a lg" style="left:41.8px;top:735.71px;transform:scaleX(0.889)">SRP</div>
<div class="sq" style="left:25.1px;top:753.00px;background:#a0a0a0"></div>
<div class="a lg" style="left:41.8px;top:752.71px;transform:scaleX(0.990)">RNase-MRP</div>
</body></html>
